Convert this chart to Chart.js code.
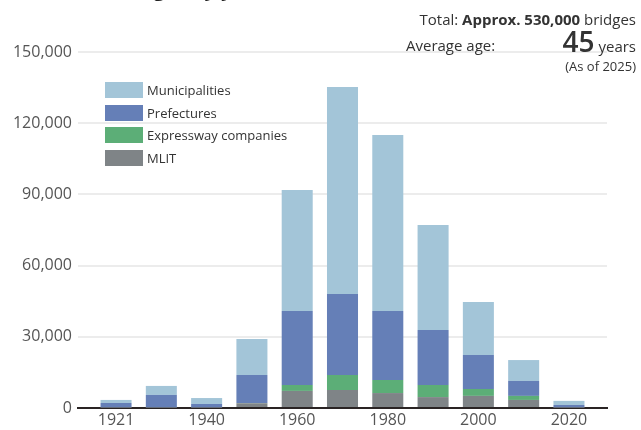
<!DOCTYPE html>
<html>
<head>
  <meta charset="UTF-8">
  <title>Bridges by year of construction</title>
  <script src="https://cdn.jsdelivr.net/npm/chart.js"></script>
  <style>
    body { margin: 0; background: #fff; font-family: "Open Sans", sans-serif; color: #333; }
    #wrap { position: relative; width: 641px; height: 430px; overflow: hidden; }
    #chart { position: absolute; left: 0; top: 0; }
    .title { position: absolute; left: 0; top: -25px; font-size: 20px; font-weight: bold; color: #222; white-space: nowrap; }
    .info { position: absolute; right: 5px; font-size: 15px; color: #333; white-space: nowrap; }
    .info b { font-weight: bold; }
    .big { font-size: 28px; font-weight: 600; }
    .legend { position: absolute; left: 105px; top: 82px; font-size: 13px; color: #333; }
    .legend div { height: 22.7px; line-height: 16px; white-space: nowrap; }
    .legend span { display: inline-block; width: 38px; height: 16px; vertical-align: top; margin-right: 4px; }
  </style>
</head>
<body>
<div id="wrap">
  <canvas id="chart" width="641" height="430"></canvas>
  <div class="title">Number of bridges by year of construction</div>
  <div class="info" style="top:9px;">Total: <b>Approx. 530,000</b> bridges</div>
  <div class="info" style="top:35px; left:406px; right:auto;">Average age:</div>
  <div class="info" style="top:26px; line-height:30px;"><span class="big">45</span> years</div>
  <div class="info" style="top:57px; font-size:13px;">(As of 2025)</div>
  <div class="legend" id="legend"></div>
</div>
<script>
// construction year buckets
var years = ['1921', '1930', '1940', '1950', '1960', '1970', '1980', '1990', '2000', '2010', '2020'];
var yearTicks = [0, 2, 4, 6, 8, 10];

// number of bridges by owner
var mlit = [200, 200, 200, 2000, 7200, 7600, 6300, 4600, 5100, 3400, 200];
var expressway = [0, 0, 0, 100, 2500, 6300, 5500, 5100, 2900, 1700, 0];
var prefectures = [1900, 5300, 1500, 11800, 31200, 34100, 29100, 23200, 14300, 6300, 1100];
var municipalities = [1300, 3800, 2500, 15200, 51000, 87300, 74100, 44200, 22400, 8800, 1700];

function points(arr) {
  return arr.map(function (v, i) { return { x: i, y: v }; });
}

var datasets = [
  { label: 'MLIT', data: points(mlit), backgroundColor: '#7f8487' },
  { label: 'Expressway companies', data: points(expressway), backgroundColor: '#5cae77' },
  { label: 'Prefectures', data: points(prefectures), backgroundColor: '#657fb7' },
  { label: 'Municipalities', data: points(municipalities), backgroundColor: '#a3c5d8' }
];

// legend, top item = top of stack
var legendHtml = '';
datasets.slice().reverse().forEach(function (ds) {
  legendHtml += '<div><span style="background:' + ds.backgroundColor + '"></span>' + ds.label + '</div>';
});
document.getElementById('legend').innerHTML = legendHtml;

var ctx = document.getElementById('chart').getContext('2d');
new Chart(ctx, {
  type: 'bar',
  data: { datasets: datasets },
  options: {
    responsive: false,
    animation: false,
    layout: { padding: { left: 0, right: 34, top: 52, bottom: 0 } },
    datasets: { bar: { categoryPercentage: 1, barPercentage: 0.685 } },
    plugins: { legend: { display: false }, tooltip: { enabled: false } },
    scales: {
      x: {
        type: 'linear',
        stacked: true,
        offset: false,
        min: -0.84,
        max: 10.84,
        grid: { display: false, offset: false, drawTicks: false },
        border: { display: true, color: '#2a2424', width: 2 },
        afterBuildTicks: function (axis) {
          axis.ticks = yearTicks.map(function (v) { return { value: v }; });
        },
        afterFit: function (axis) { axis.height = 22; },
        ticks: {
          padding: 3,
          color: '#555',
          font: { family: 'Open Sans', size: 16 },
          callback: function (v) { return years[v]; }
        }
      },
      y: {
        stacked: true,
        min: 0,
        max: 150000,
        afterFit: function (axis) { axis.width = 78; },
        border: { display: false },
        grid: {
          drawTicks: false,
          lineWidth: 2,
          color: function (c) { return c.tick && c.tick.value === 0 ? '#2a2424' : '#ececec'; }
        },
        ticks: {
          stepSize: 30000,
          padding: 6,
          color: '#555',
          font: { family: 'Open Sans', size: 16 },
          callback: function (v) { return v.toLocaleString('en-US'); }
        }
      }
    }
  }
});
</script>
</body>
</html>
